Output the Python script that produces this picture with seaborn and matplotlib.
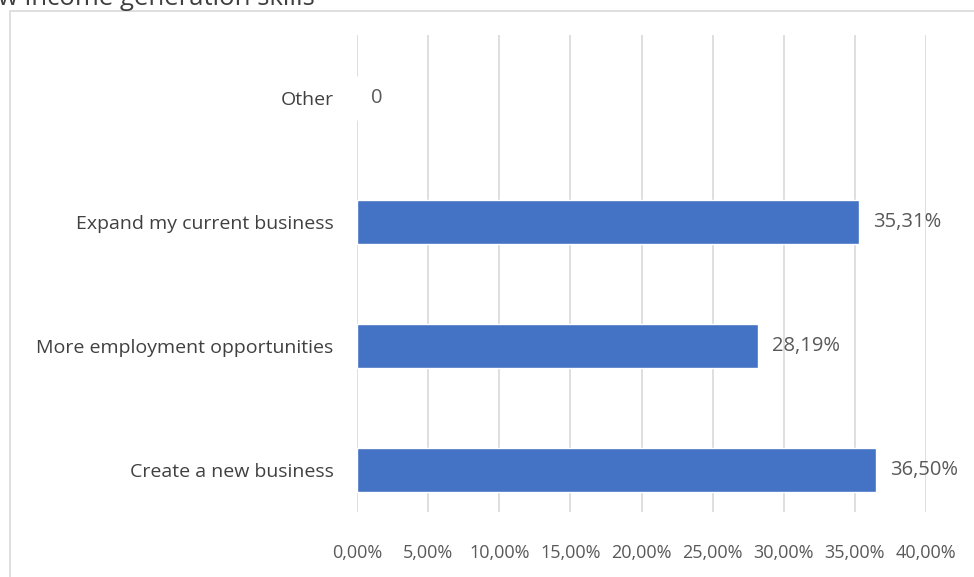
import matplotlib
matplotlib.use("Agg")
import matplotlib.pyplot as plt
import matplotlib.patches as mpatches
import seaborn as sns
import pandas as pd

categories = ["Other", "Expand my current business", "More employment opportunities", "Create a new business"]
values = [0.0, 35.31, 28.19, 36.50]
value_labels = ["0", "35,31%", "28,19%", "36,50%"]
tick_values = [0, 5, 10, 15, 20, 25, 30, 35, 40]
tick_labels = ["0,00%", "5,00%", "10,00%", "15,00%", "20,00%", "25,00%", "30,00%", "35,00%", "40,00%"]
title_text = "w income generation skills"

sns.set_theme(style="white")
plt.rcParams["font.family"] = ["Open Sans", "DejaVu Sans"]

df = pd.DataFrame({"category": categories, "value": values})

W, H = 974, 577
fig = plt.figure(figsize=(W / 100, H / 100), dpi=100)
ax = fig.add_axes([357 / W, 1 - 512 / H, (926 - 357) / W, (512 - 35) / H])

sns.barplot(data=df, x="value", y="category", orient="h", color="#4472C4",
            saturation=1, width=0.355, ax=ax, zorder=3)

ax.set_xlim(0, 40)
ax.set_ylim(3.34, -0.508)
ax.set_xticks(tick_values)
ax.set_xticklabels(tick_labels, fontsize=13, color="#595959")
ax.tick_params(axis="x", length=0, pad=23)
ax.tick_params(axis="y", length=0, pad=17, labelsize=14, labelcolor="#404040")
ax.set_xlabel("")
ax.set_ylabel("")
ax.grid(axis="x", color="#D9D9D9", linewidth=1.2, zorder=0)
ax.grid(axis="y", visible=False)
for s in ax.spines.values():
    s.set_visible(False)

for i, (v, lab) in enumerate(zip(values, value_labels)):
    ax.annotate(lab, xy=(v, i), xytext=(10, 0), textcoords="offset points",
                va="center", ha="left", fontsize=14.5, color="#595959")

# chart border (cropped at right and bottom)
rect = mpatches.Rectangle((10 / W, -0.2), 1.2, 1 - 11 / H + 0.2, transform=fig.transFigure,
                          fill=False, edgecolor="#D9D9D9", linewidth=1.2, clip_on=False)
fig.patches.append(rect)

fig.text(-2 / W, 1 - 5 / H, title_text, fontsize=18.5, color="#404040", ha="left", va="baseline")

fig.savefig("out.png", dpi=100)
